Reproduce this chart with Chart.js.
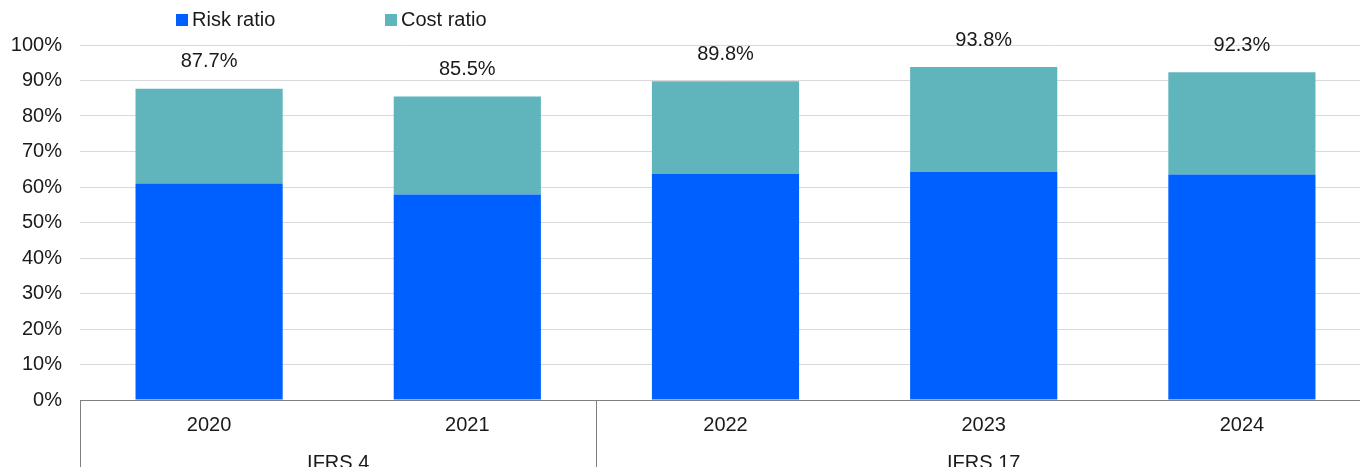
<!DOCTYPE html>
<html>
<head>
<meta charset="utf-8">
<script src="https://cdn.jsdelivr.net/npm/chart.js@4.4.1/dist/chart.umd.min.js"></script>
<style>
    html, body { margin: 0; padding: 0; background: #fff; overflow: hidden; }
    #wrap { position: relative; width: 1371px; height: 467px; }
</style>
</head>
<body>
<div id="wrap"><canvas id="ratio-chart"></canvas></div>
<script>
    // start: Data
    const years = ['2020', '2021', '2022', '2023', '2024']
    const riskRatio = [61.0, 57.9, 63.7, 64.3, 63.5]
    const costRatio = [26.7, 27.6, 26.1, 29.5, 28.8]
    const totals = [87.7, 85.5, 89.8, 93.8, 92.3]
    const groups = ['IFRS 4', 'IFRS 17']
    const groupSizes = [2, 3]
    const yTicks = [0, 10, 20, 30, 40, 50, 60, 70, 80, 90, 100]
    // end: Data

    const font = 'Liberation Sans, Arial, sans-serif'

    // totals over the bars, legend, group labels under the axis
    const extras = {
        id: 'extras',
        afterDatasetsDraw(chart) {
            const ctx = chart.ctx
            const x = chart.scales.x
            const area = chart.chartArea
            const top = chart.getDatasetMeta(chart.data.datasets.length - 1)

            ctx.save()
            ctx.font = '20px ' + font
            ctx.fillStyle = '#1a1a1a'
            ctx.textAlign = 'center'
            ctx.textBaseline = 'middle'
            top.data.forEach(function(bar, i) {
                ctx.fillText(totals[i].toFixed(1) + '%', bar.x, bar.y - 27)
            })

            // legend
            const legendX = [176, 385]
            ctx.textAlign = 'left'
            chart.data.datasets.forEach(function(ds, i) {
                ctx.fillStyle = ds.backgroundColor
                ctx.fillRect(legendX[i], 14, 12, 12)
                ctx.fillStyle = '#1a1a1a'
                ctx.fillText(ds.label, legendX[i] + 16, 20)
            })

            // group separators + labels
            const step = x.getPixelForValue(1) - x.getPixelForValue(0)
            let start = 0
            ctx.strokeStyle = '#7f7f7f'
            ctx.lineWidth = 1
            ctx.textAlign = 'center'
            const edges = [x.getPixelForValue(0) - step / 2]
            groupSizes.forEach(function(n, g) {
                const left = x.getPixelForValue(start) - step / 2
                const right = x.getPixelForValue(start + n - 1) + step / 2
                edges.push(right)
                ctx.fillText(groups[g], (left + right) / 2, 463)
                start += n
            })
            edges.forEach(function(ex) {
                const px = Math.round(ex) + 0.5
                ctx.beginPath()
                ctx.moveTo(px, area.bottom)
                ctx.lineTo(px, chart.height)
                ctx.stroke()
            })
            ctx.restore()
        }
    }

    const ratioChart = new Chart(document.getElementById('ratio-chart'), {
        type: 'bar',
        data: {
            labels: years,
            datasets: [{
                label: 'Risk ratio',
                backgroundColor: '#0060ff',
                data: riskRatio,
            }, {
                label: 'Cost ratio',
                backgroundColor: '#60b5bc',
                data: costRatio,
            }]
        },
        options: {
            responsive: true,
            maintainAspectRatio: false,
            animation: false,
            layout: { padding: { top: 45, right: 0, left: 0, bottom: 0 } },
            datasets: { bar: { barPercentage: 0.57, categoryPercentage: 1 } },
            plugins: {
                legend: { display: false },
                tooltip: { enabled: false }
            },
            scales: {
                x: {
                    stacked: true,
                    grid: { display: false, drawTicks: false },
                    border: { display: true, color: '#7f7f7f', width: 1 },
                    ticks: { color: '#1a1a1a', font: { family: font, size: 20 }, padding: 13 },
                    afterFit(scale) { scale.height = 67 }
                },
                y: {
                    stacked: true,
                    min: 0,
                    max: 100,
                    afterBuildTicks(scale) { scale.ticks = yTicks.map(function(v) { return { value: v } }) },
                    grid: { color: '#d9d9d9', lineWidth: 1, drawTicks: false },
                    border: { display: false },
                    ticks: {
                        color: '#1a1a1a',
                        font: { family: font, size: 20 },
                        padding: 18,
                        callback: function(v) { return v + '%' }
                    },
                    afterFit(scale) { scale.width = 80 }
                }
            }
        },
        plugins: [extras]
    })
</script>
</body>
</html>
